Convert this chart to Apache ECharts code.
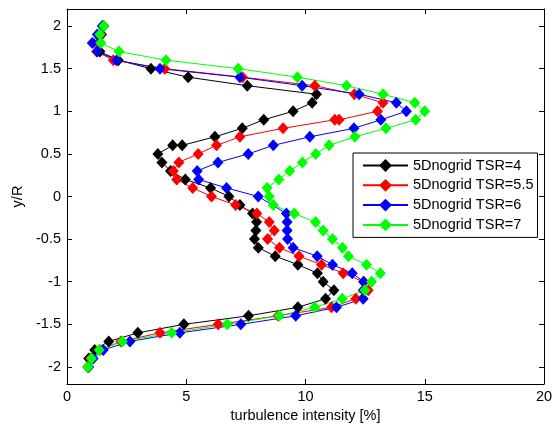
<!DOCTYPE html>
<html>
<head>
<meta charset="utf-8">
<script src="https://cdn.jsdelivr.net/npm/echarts@6/dist/echarts.min.js"></script>
<style>html,body{margin:0;padding:0;background:#fff}#c{width:558px;height:429px}</style>
</head>
<body>
<div id="c"></div>
<script>
// y/R positions (shared grid of measurement stations)
const yTSR4 = [2.0,1.9,1.8,1.7,1.6,1.5,1.4,1.3,1.2,1.1,1.0,0.9,0.8,0.7,0.6,0.6,0.5,0.4,0.3,0.2,0.1,0.0,-0.1,-0.2,-0.3,-0.4,-0.5,-0.6,-0.7,-0.8,-0.9,-1.0,-1.1,-1.2,-1.3,-1.4,-1.5,-1.6,-1.7,-1.8,-1.9,-2.0];
const xTSR4 = [1.54,1.45,1.32,1.38,2.15,3.52,5.08,7.56,10.46,10.28,9.48,8.25,7.35,6.2,4.83,4.43,3.81,3.98,4.34,4.96,6.02,6.79,7.25,7.78,7.95,7.92,7.86,8.02,8.73,9.68,10.5,10.74,11.19,10.84,9.68,7.61,4.9,2.97,1.75,1.16,0.91,0.88];

const yTSR55 = [2.0,1.9,1.8,1.7,1.6,1.5,1.4,1.3,1.2,1.1,1.0,0.9,0.9,0.8,0.7,0.6,0.5,0.4,0.3,0.2,0.1,0.0,-0.1,-0.2,-0.3,-0.4,-0.5,-0.6,-0.7,-0.8,-0.9,-1.0,-1.1,-1.2,-1.3,-1.4,-1.5,-1.6,-1.7,-1.8,-1.9,-2.0];
const xTSR55 = [1.5,1.4,1.3,1.24,1.94,4.1,7.36,10.39,12.05,13.25,13.02,11.41,11.23,9.06,7.25,6.27,5.5,4.69,4.46,4.6,5.27,6.06,7.07,7.96,8.48,8.69,8.41,8.91,9.73,10.67,11.58,12.44,12.63,12.11,11.09,8.85,6.34,3.9,2.26,1.38,0.99,0.88];

const yTSR6 = [2.0,1.9,1.8,1.7,1.6,1.5,1.4,1.3,1.2,1.1,1.0,0.9,0.8,0.7,0.6,0.5,0.4,0.3,0.2,0.1,0.0,-0.2,-0.3,-0.4,-0.5,-0.6,-0.7,-0.8,-0.9,-1.0,-1.1,-1.2,-1.3,-1.4,-1.5,-1.6,-1.7,-1.8,-1.9,-2.0];
const xTSR6 = [1.48,1.27,1.06,1.27,2.08,3.9,7.25,9.86,12.25,13.81,14.23,13.16,12.03,10.18,8.65,7.6,6.33,5.46,5.52,6.69,8.02,9.2,9.23,9.23,9.25,9.48,10.49,11.13,11.96,12.44,12.42,12.42,11.3,9.59,7.29,4.73,2.64,1.52,1.1,0.91];

const yTSR7 = [2.0,1.9,1.8,1.7,1.6,1.5,1.4,1.3,1.2,1.1,1.0,0.9,0.8,0.7,0.6,0.5,0.4,0.3,0.2,0.1,0.0,-0.1,-0.2,-0.3,-0.4,-0.5,-0.6,-0.7,-0.8,-0.9,-1.0,-1.1,-1.2,-1.3,-1.4,-1.5,-1.6,-1.7,-1.8,-1.9,-2.0];
const xTSR7 = [1.54,1.38,1.42,2.18,4.15,7.18,9.66,11.72,13.25,14.58,15.0,14.62,13.37,12.07,10.99,10.43,9.87,9.34,8.88,8.39,8.48,8.65,9.53,10.42,10.74,11.13,11.55,11.8,12.56,13.14,12.77,12.49,11.54,10.39,8.9,6.72,4.39,2.32,1.35,1.03,0.88];

const seriesNames = ['5Dnogrid TSR=4','5Dnogrid TSR=5.5','5Dnogrid TSR=6','5Dnogrid TSR=7'];
const xTicks = [0,5,10,15,20];
const yTicks = [-2,-1.5,-1,-0.5,0,0.5,1,1.5,2];

const colors = ['#000000','#ff0000','#0000ff','#00ff00'];
const xs = [xTSR4,xTSR55,xTSR6,xTSR7];
const ys = [yTSR4,yTSR55,yTSR6,yTSR7];
const FONT = 'Liberation Sans, Arial, sans-serif';
const FS = 14.5;

const chart = echarts.init(document.getElementById('c'), null, {renderer:'canvas'});
const axisCommon = {
  axisLine:{show:true,onZero:false,lineStyle:{color:'#000',width:1}},
  axisTick:{show:true,inside:true,length:5,lineStyle:{color:'#000',width:1}},
  splitLine:{show:false}
};
chart.setOption({
  animation:false,
  backgroundColor:'#fff',
  grid:{left:67,right:14,top:9,bottom:45,containLabel:false},
  xAxis:[
    Object.assign({type:'value',position:'bottom',min:0,max:20,interval:5,
      name:'turbulence intensity [%]',nameLocation:'middle',nameGap:22,
      nameTextStyle:{color:'#000',fontFamily:FONT,fontSize:FS},
      axisLabel:{color:'#000',fontFamily:FONT,fontSize:FS,margin:5,formatter:v=>String(v)}},axisCommon),
    Object.assign({type:'value',position:'top',min:0,max:20,interval:5,axisLabel:{show:false}},axisCommon)
  ],
  yAxis:[
    Object.assign({type:'value',position:'left',min:-2.2,max:2.2,
      name:'y/R',nameLocation:'middle',nameGap:40,
      nameTextStyle:{color:'#000',fontFamily:FONT,fontSize:FS},
      axisLabel:{color:'#000',fontFamily:FONT,fontSize:FS,margin:6,customValues:yTicks,formatter:v=>String(v)}},axisCommon,
      {axisTick:{show:true,inside:true,length:5,customValues:yTicks,lineStyle:{color:'#000',width:1}}}),
    Object.assign({type:'value',position:'right',min:-2.2,max:2.2,axisLabel:{show:false}},axisCommon,
      {axisTick:{show:true,inside:true,length:5,customValues:yTicks,lineStyle:{color:'#000',width:1}}})
  ],
  legend:{
    orient:'vertical',left:353,top:153,
    backgroundColor:'#fff',borderColor:'#000',borderWidth:1,borderRadius:0,
    padding:[5,4,5,9],itemGap:4.8,itemWidth:45,itemHeight:16,
    textStyle:{color:'#000',fontFamily:FONT,fontSize:FS},
    data:seriesNames
  },
  series: seriesNames.map((n,i)=>({
    name:n,type:'line',xAxisIndex:0,yAxisIndex:0,
    data: xs[i].map((x,j)=>[x, ys[i][j]]),
    symbol:'diamond',symbolSize:[11,12],showSymbol:true,
    lineStyle:{color:colors[i],width:1},
    itemStyle:{color:colors[i],borderColor:colors[i],borderWidth:0},
    emphasis:{disabled:true}
  }))
});
</script>
</body>
</html>
